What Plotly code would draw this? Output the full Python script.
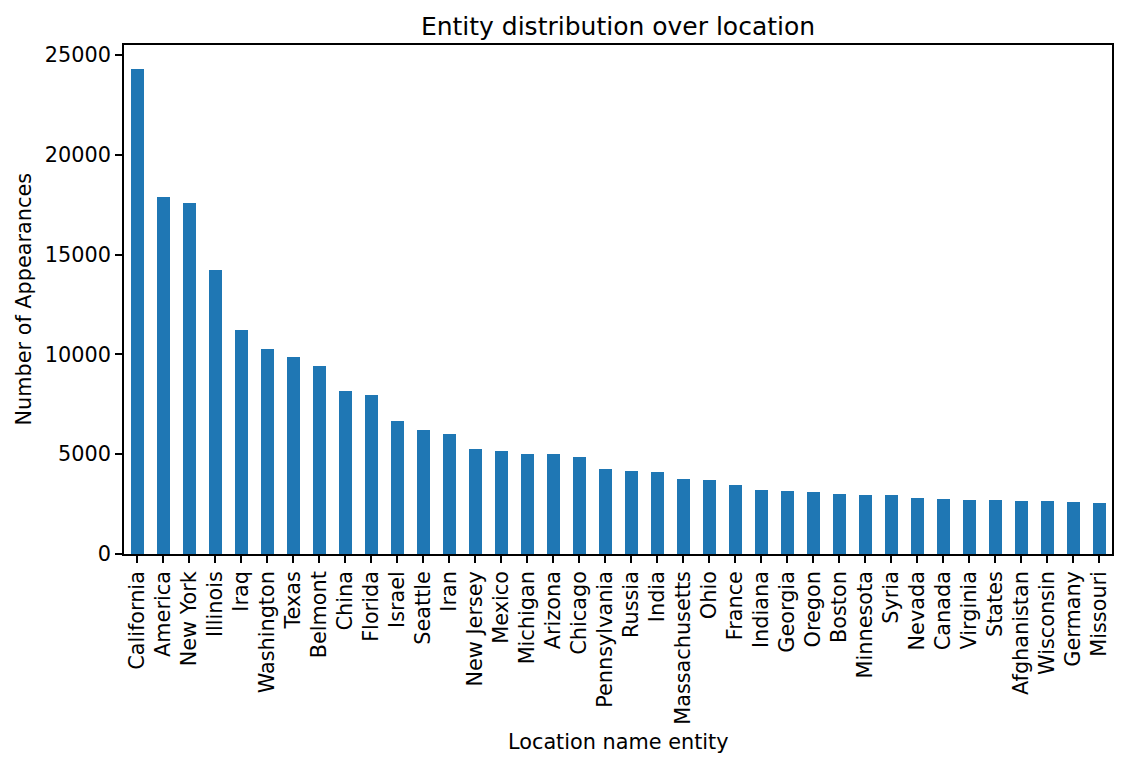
import plotly.graph_objects as go

locations = ["California", "America", "New York", "Illinois", "Iraq", "Washington", "Texas",
             "Belmont", "China", "Florida", "Israel", "Seattle", "Iran", "New Jersey", "Mexico",
             "Michigan", "Arizona", "Chicago", "Pennsylvania", "Russia", "India", "Massachusetts",
             "Ohio", "France", "Indiana", "Georgia", "Oregon", "Boston", "Minnesota", "Syria",
             "Nevada", "Canada", "Virginia", "States", "Afghanistan", "Wisconsin", "Germany",
             "Missouri"]
appearances = [24290, 17890, 17580, 14230, 11210, 10260, 9860,
               9420, 8160, 7960, 6660, 6200, 6000, 5250, 5150,
               5000, 4990, 4840, 4240, 4140, 4090, 3740,
               3690, 3440, 3190, 3140, 3090, 2990, 2940, 2940,
               2790, 2740, 2690, 2690, 2640, 2640, 2590,
               2540]
y_ticks = [0, 5000, 10000, 15000, 20000, 25000]

FONT = "DejaVu Sans"
FS = 20.8
# the page body has an 8px default margin, so the figure is sized to fit the window
W, H = 1119, 759

fig = go.Figure(go.Bar(
    x=list(range(len(locations))),
    y=appearances,
    width=0.5,
    marker=dict(color="#1f77b4", line=dict(width=0)),
))

fig.update_layout(
    width=W, height=H,
    margin=dict(l=116, r=15, t=37, b=213),
    paper_bgcolor="white", plot_bgcolor="white",
    font=dict(family=FONT, size=FS, color="black"),
    showlegend=False,
    bargap=0,
    title=dict(text="Entity distribution over location", x=0.5, xref="paper",
               y=1 - 18 / H, yref="container", yanchor="middle", xanchor="center",
               font=dict(family=FONT, size=25, color="black")),
    xaxis=dict(
        range=[-0.5, len(locations) - 0.5],
        tickmode="array", tickvals=list(range(len(locations))), ticktext=locations,
        tickangle=-90, ticks="outside", ticklen=7, tickwidth=1.6, tickcolor="black",
        showline=True, linecolor="black", linewidth=1.6, mirror=True,
        showgrid=False, zeroline=False,
        tickfont=dict(family=FONT, size=FS, color="black"),
    ),
    yaxis=dict(
        range=[0, max(appearances) * 1.05],
        tickmode="array", tickvals=y_ticks, ticktext=[str(v) for v in y_ticks],
        ticks="outside", ticklen=7, tickwidth=1.6, tickcolor="black",
        showline=True, linecolor="black", linewidth=1.6, mirror=True,
        showgrid=False, zeroline=False,
        tickfont=dict(family=FONT, size=FS, color="black"),
    ),
    annotations=[
        dict(text="Location name entity", xref="paper", yref="paper", x=0.5, y=0,
             xanchor="center", yanchor="middle", yshift=-188, showarrow=False,
             font=dict(family=FONT, size=FS, color="black")),
        dict(text="Number of Appearances", xref="paper", yref="paper", x=0, y=0.5,
             xanchor="center", yanchor="middle", xshift=-101, textangle=-90, showarrow=False,
             font=dict(family=FONT, size=FS, color="black")),
    ],
)

fig.write_html("out.html")
